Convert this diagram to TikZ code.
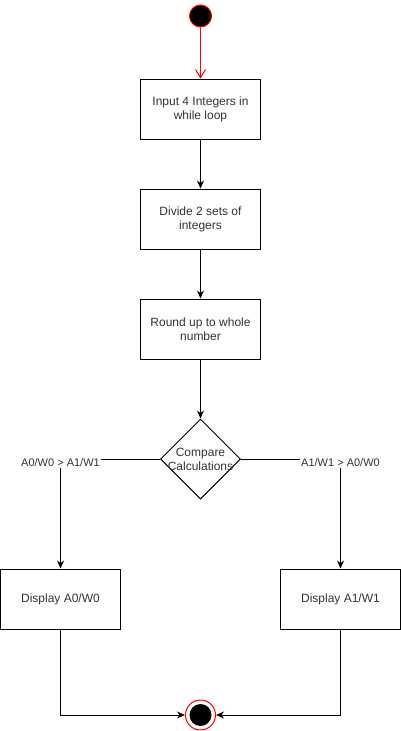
\documentclass[tikz,border=0pt]{standalone}
\usepackage{fontspec}
\setmainfont{Liberation Sans}
\usetikzlibrary{positioning, arrows.meta, shapes.geometric}
\def\flow{\draw[-{Stealth[length=8pt, width=7pt]}]}

\begin{document}
\begin{tikzpicture}[x=1pt, y=1pt, line width=1pt,
    font=\fontsize{12}{14}\selectfont,
    act/.style={draw, minimum width=120pt, minimum height=60pt, align=center, text=black!80},
    decision/.style={draw, diamond, aspect=1, minimum width=80pt, minimum height=80pt, inner sep=0pt},
    cond/.style={fill=white, inner sep=1pt, yshift=-4pt, font=\fontsize{11}{13}\selectfont, text=black!80},
    initial/.style={circle, draw=red, fill=black, minimum size=22pt, inner sep=0pt},
    final/.style={circle, draw=red, fill=white, minimum size=30pt, inner sep=0pt,
        path picture={\fill[black] (path picture bounding box.center) circle (11pt);}}]
            \useasboundingbox (0,0) rectangle (401,-731);
            \node [initial] (S) at (200.5,-16) {};
            \node [act, below=51pt of S] (In) {Input 4 Integers in\\while loop};
            \node [act, below=49pt of In] (Div) {Divide 2 sets of\\integers};
            \node [act, below=49pt of Div] (Rnd) {Round up to whole\\number};
            \node [decision, below=59pt of Rnd, label={[align=center, text=black!80]center:Compare\\Calculations}] (Cmp) {};
            \node [act, below=69pt of Cmp, xshift=-140pt] (ShowA) {Display A0/W0};
            \node [act, below=69pt of Cmp, xshift=140pt] (ShowB) {Display A1/W1};
            \node [final, below=200pt of Cmp] (End) {};

            \draw[red, -{Straight Barb[length=8pt, width=10pt]}] (S) -- (In);
            \flow (In) -- (Div);
            \flow (Div) -- (Rnd);
            \flow (Rnd) -- (Cmp);
            \flow (Cmp.west) -| node[cond, pos=0.5] {A0/W0 > A1/W1} (ShowA);
            \flow (Cmp.east) -| node[cond, pos=0.5] {A1/W1 > A0/W0} (ShowB);
            \flow (ShowA) |- (End);
            \flow (ShowB) |- (End);
        \end{tikzpicture}
\end{document}
